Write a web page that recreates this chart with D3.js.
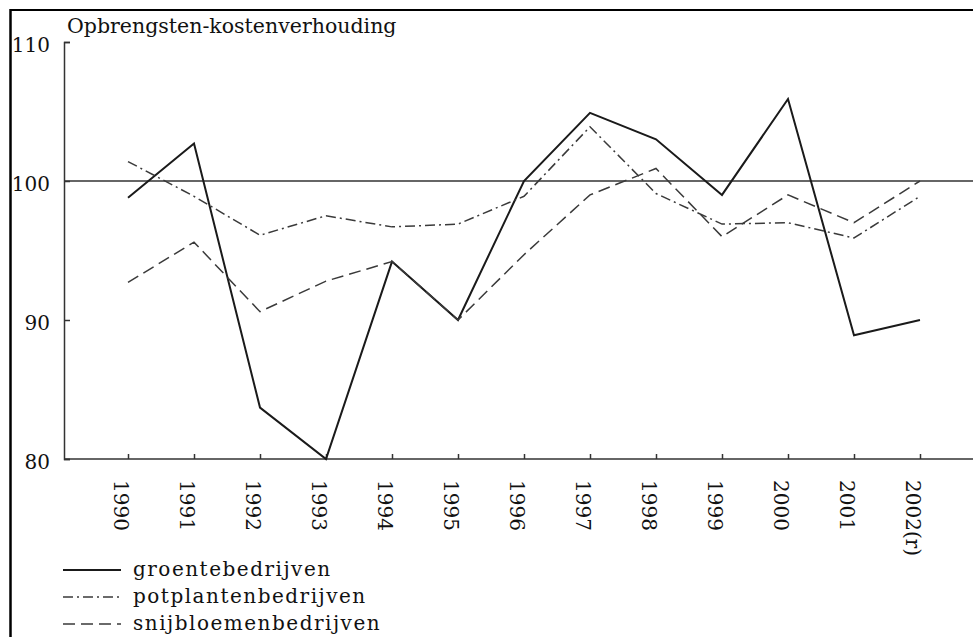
<!DOCTYPE html>
<html>
<head>
<meta charset="utf-8">
<script src="https://cdn.jsdelivr.net/npm/d3@7"></script>
<style>
  html, body { margin: 0; padding: 0; background: #fff; }
  svg { display: block; font-family: "DejaVu Serif", serif; }
</style>
</head>
<body>
<div id="chart"></div>
<script>
// ─── Data ───────────────────────────────────────────────────
const years = ["1990", "1991", "1992", "1993", "1994", "1995", "1996",
  "1997", "1998", "1999", "2000", "2001", "2002(r)"];
const groente = [98.8, 102.7, 83.7, 80.0, 94.2, 90.0, 100.0, 104.9, 103.0, 99.0, 105.9, 88.9, 90.0];
const potplanten = [101.4, 98.9, 96.1, 97.5, 96.7, 96.9, 98.9, 103.9, 99.1, 96.9, 97.0, 95.9, 98.9];
const snijbloemen = [92.7, 95.6, 90.6, 92.8, 94.2, 90.0, 94.7, 99.0, 100.9, 96.0, 99.0, 97.0, 100.0];
const yTicks = [80, 90, 100, 110];
const seriesNames = ["groentebedrijven", "potplantenbedrijven", "snijbloemenbedrijven"];
const titleText = "Opbrengsten-kostenverhouding";

// ─── Layout ─────────────────────────────────────────────────
const W = 973, H = 637;
const axisX = 64, axisY = 459, topY = 42;
const fontSize = 20;
const serif = "DejaVu Serif";

const series = [
  { name: seriesNames[0], values: groente, dash: null, width: 2, color: "#1a1a1a" },
  { name: seriesNames[1], values: potplanten, dash: "10,4,2,4", width: 1.5, color: "#3a3a3a" },
  { name: seriesNames[2], values: snijbloemen, dash: "12,6", width: 1.5, color: "#3a3a3a" }
];

const svg = d3.select("#chart").append("svg")
  .attr("width", W)
  .attr("height", H);

// Page frame (left + top edge of the scan)
svg.append("line").attr("x1", 10.5).attr("x2", 10.5).attr("y1", 9).attr("y2", H)
  .attr("stroke", "#000").attr("stroke-width", 2.5);
svg.append("line").attr("x1", 10).attr("x2", W).attr("y1", 10).attr("y2", 10)
  .attr("stroke", "#000").attr("stroke-width", 2);

// Scales
const x = d3.scalePoint().domain(years).range([128, 920]);
const y = d3.scaleLinear().domain([80, 110]).range([axisY, topY]);

// Reference line at 100
svg.append("line")
  .attr("x1", axisX).attr("x2", W)
  .attr("y1", y(100)).attr("y2", y(100))
  .attr("stroke", "#333").attr("stroke-width", 1.5);

// Y axis
const yAxis = svg.append("g")
  .attr("transform", `translate(${axisX},0)`)
  .call(d3.axisLeft(y).tickValues(yTicks).tickSize(-6).tickPadding(14).tickFormat(d3.format("d")));
yAxis.select(".domain").attr("stroke", "#333").attr("stroke-width", 1.5);
yAxis.selectAll(".tick line").attr("stroke", "#333").attr("stroke-width", 1.5);
yAxis.selectAll(".tick text")
  .attr("dy", "0.45em")
  .attr("fill", "#111")
  .style("font-size", fontSize + "px")
  .style("font-family", serif);

// X axis
const xAxis = svg.append("g")
  .attr("transform", `translate(0,${axisY})`)
  .call(d3.axisBottom(x).tickSize(-5).tickSizeOuter(0));
xAxis.select(".domain").attr("d", `M${axisX},0H${W}`).attr("stroke", "#333").attr("stroke-width", 1.5);
xAxis.selectAll(".tick line").attr("stroke", "#333").attr("stroke-width", 1.5);
xAxis.selectAll(".tick text")
  .attr("y", null)
  .attr("x", 21)
  .attr("dy", "0.55em")
  .attr("transform", "translate(-4,0) rotate(90)")
  .style("text-anchor", "start")
  .attr("fill", "#111")
  .style("font-size", fontSize + "px")
  .style("font-family", serif);

// Title
svg.append("text")
  .attr("x", 67)
  .attr("y", 33)
  .attr("fill", "#111")
  .style("font-size", "20.5px")
  .text(titleText);

// Lines
const line = d3.line()
  .x((d, i) => x(years[i]))
  .y(d => y(d));

svg.append("g").selectAll("path")
  .data(series)
  .enter()
  .append("path")
  .attr("d", d => line(d.values))
  .attr("fill", "none")
  .attr("stroke", d => d.color)
  .attr("stroke-width", d => d.width)
  .attr("stroke-dasharray", d => d.dash)
  .attr("stroke-linejoin", "miter");

// Legend
const legend = svg.append("g").attr("transform", "translate(63,570)");
const rows = legend.selectAll("g")
  .data(series)
  .enter()
  .append("g")
  .attr("transform", (d, i) => `translate(0,${i * 27})`);
rows.append("line")
  .attr("x1", 0).attr("x2", 58)
  .attr("stroke", d => d.color)
  .attr("stroke-width", d => d.width)
  .attr("stroke-dasharray", d => d.dash);
rows.append("text")
  .attr("x", 70)
  .attr("y", 6)
  .attr("fill", "#111")
  .style("font-size", fontSize + "px")
  .style("letter-spacing", "1.5px")
  .text(d => d.name);
</script>
</body>
</html>
